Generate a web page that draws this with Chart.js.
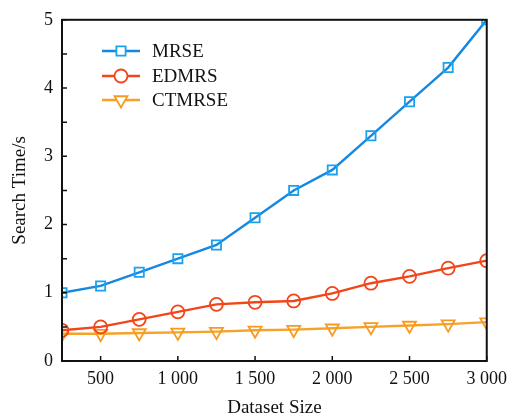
<!DOCTYPE html>
<html>
<head>
<meta charset="utf-8">
<script src="https://cdn.jsdelivr.net/npm/chart.js@4"></script>
<style>
  html, body { margin: 0; padding: 0; background: #fff; }
  #wrap { width: 514px; height: 418px; }
</style>
</head>
<body>
<div id="wrap"><canvas id="c" width="514" height="418"></canvas></div>
<script>
// Dataset sizes and search times (s)
const sizes  = [250, 500, 750, 1000, 1250, 1500, 1750, 2000, 2250, 2500, 2750, 3000];
const mrse   = [1.0, 1.1, 1.3, 1.5, 1.7, 2.1, 2.5, 2.8, 3.3, 3.8, 4.3, 5.0];
const edmrs  = [0.45, 0.50, 0.61, 0.72, 0.83, 0.86, 0.88, 0.99, 1.14, 1.24, 1.36, 1.47];
const ctmrse = [0.40, 0.40, 0.41, 0.42, 0.43, 0.45, 0.46, 0.48, 0.50, 0.52, 0.54, 0.57];
const xTicks = [500, 1000, 1500, 2000, 2500, 3000];
const yTicks = [0, 1, 2, 3, 4, 5];
const yMinorTicks = [0.5, 1.5, 2.5, 3.5, 4.5];

const FONT = "'Liberation Serif', 'Times New Roman', serif";

function pts(values) {
  return sizes.map((x, i) => ({ x, y: values[i] }));
}

// Box frame, inward tick marks and the in-plot legend
const framePlugin = {
  id: 'frame',
  afterDatasetsDraw(chart) {
    const { ctx, chartArea: a, scales } = chart;
    ctx.save();
    ctx.strokeStyle = '#111';
    ctx.lineWidth = 2;
    ctx.strokeRect(a.left, a.top, a.right - a.left, a.bottom - a.top);

    ctx.lineWidth = 1.5;
    ctx.beginPath();
    for (const v of yTicks.concat(yMinorTicks)) {
      const y = scales.y.getPixelForValue(v);
      ctx.moveTo(a.left, y); ctx.lineTo(a.left + 5, y);
    }
    for (const v of xTicks) {
      const x = scales.x.getPixelForValue(v);
      ctx.moveTo(x, a.bottom); ctx.lineTo(x, a.bottom - 5);
    }
    ctx.stroke();

    const lx0 = 102, lx1 = 140, tx = 152;
    const rows = [51, 76, 100];
    chart.data.datasets.forEach((ds, i) => {
      const y = rows[i];
      ctx.strokeStyle = ds.borderColor;
      ctx.lineWidth = ds.borderWidth;
      ctx.beginPath(); ctx.moveTo(lx0, y); ctx.lineTo(lx1, y); ctx.stroke();
      ctx.strokeStyle = ds.pointBorderColor;
      ctx.fillStyle = '#fff';
      ctx.lineWidth = ds.pointBorderWidth;
      Chart.helpers.drawPoint(ctx, {
        pointStyle: ds.pointStyle, rotation: ds.pointRotation || 0,
        radius: ds.pointRadius, borderWidth: ds.pointBorderWidth
      }, (lx0 + lx1) / 2, y);
      ctx.fillStyle = '#111';
      ctx.font = '19px ' + FONT;
      ctx.textBaseline = 'middle';
      ctx.textAlign = 'left';
      ctx.fillText(ds.label, tx, y + 1);
    });
    ctx.restore();
  }
};

new Chart(document.getElementById('c'), {
  type: 'line',
  data: {
    datasets: [
      { label: 'MRSE', data: pts(mrse), borderColor: '#1788e0', pointBorderColor: '#1aa3ec',
        pointBackgroundColor: 'rgba(255,255,255,0)', pointStyle: 'rect', pointRadius: 6.5,
        pointBorderWidth: 1.8, borderWidth: 2.4 },
      { label: 'EDMRS', data: pts(edmrs), borderColor: '#f2461a', pointBorderColor: '#f2461a',
        pointBackgroundColor: 'rgba(255,255,255,0)', pointStyle: 'circle', pointRadius: 6.5,
        pointBorderWidth: 1.8, borderWidth: 2.4 },
      { label: 'CTMRSE', data: pts(ctmrse), borderColor: '#f7a128', pointBorderColor: '#f79a20',
        pointBackgroundColor: 'rgba(255,255,255,0)', pointStyle: 'triangle', pointRotation: 180,
        pointRadius: 7.5, pointBorderWidth: 1.8, borderWidth: 2.4 }
    ]
  },
  options: {
    responsive: false,
    animation: false,
    layout: { padding: { top: 18, right: 21, left: 0, bottom: 0 } },
    plugins: { legend: { display: false }, tooltip: { enabled: false } },
    elements: { line: { tension: 0 } },
    scales: {
      x: {
        type: 'linear', min: 250, max: 3000,
        afterBuildTicks(s) { s.ticks = xTicks.map(v => ({ value: v })); },
        afterFit(s) { s.height = 57; },
        grid: { display: false, drawTicks: false },
        border: { display: false },
        ticks: {
          color: '#111', font: { family: FONT, size: 18 }, padding: 7, maxRotation: 0,
          callback: v => v >= 1000 ? Math.floor(v / 1000) + ' ' + String(v % 1000).padStart(3, '0') : String(v)
        },
        title: { display: true, text: 'Dataset Size', color: '#111',
          font: { family: FONT, size: 19, lineHeight: 1.0 }, padding: { top: 0, bottom: 0 } }
      },
      y: {
        min: 0, max: 5,
        afterBuildTicks(s) { s.ticks = yTicks.map(v => ({ value: v })); },
        afterFit(s) { s.width = 62; },
        grid: { display: false, drawTicks: false },
        border: { display: false },
        ticks: { color: '#111', font: { family: FONT, size: 18 }, padding: 9 },
        title: { display: true, text: 'Search Time/s', color: '#111',
          font: { family: FONT, size: 19 }, padding: { top: 9, bottom: 0 } }
      }
    }
  },
  plugins: [framePlugin]
});
</script>
</body>
</html>
